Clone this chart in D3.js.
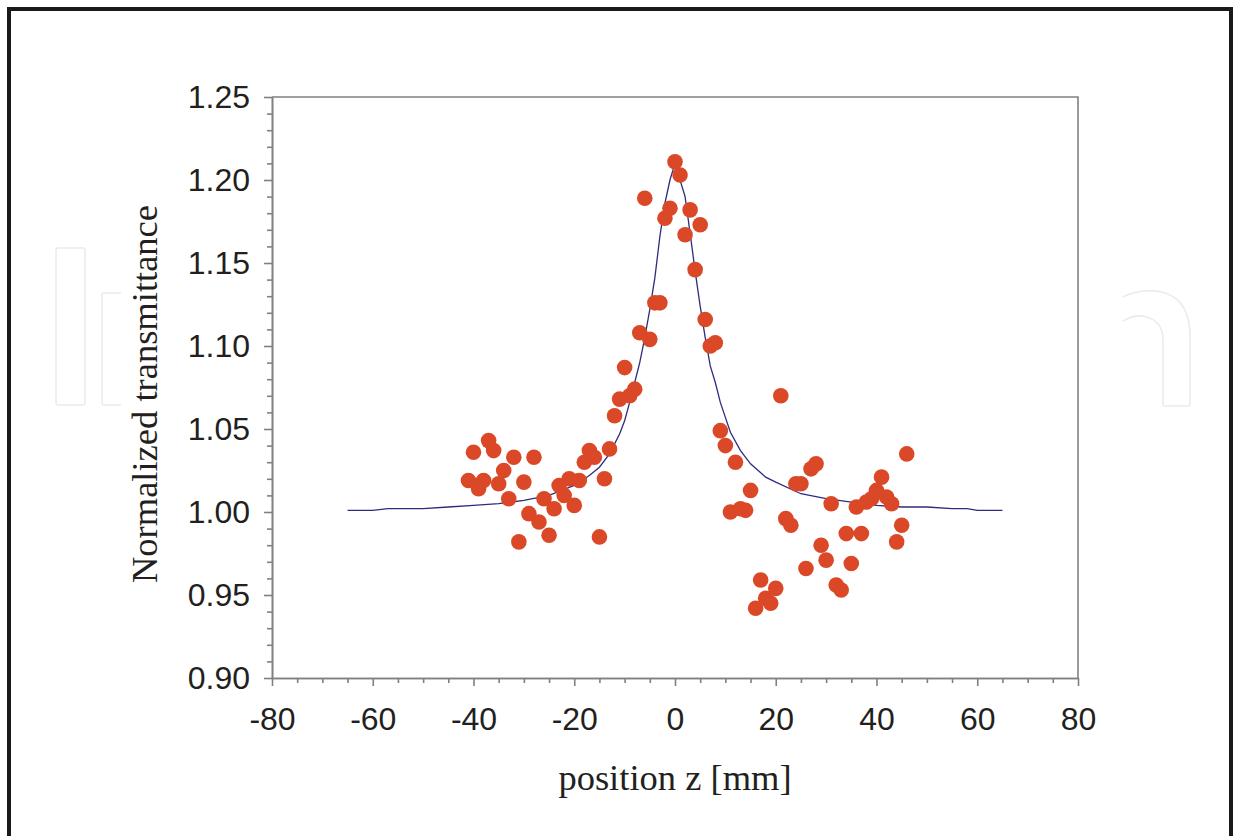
<!DOCTYPE html>
<html>
<head>
<meta charset="utf-8">
<script src="https://cdn.jsdelivr.net/npm/d3@7"></script>
<style>
    body { margin: 0; background: #fff; }
    .axis path, .axis line { stroke: #808080; stroke-width: 1.6; }
    .axis text { font-family: "Liberation Sans", Arial, sans-serif; font-size: 32px; fill: #231f20; }
    .title { font-family: "Liberation Serif", "Times New Roman", serif; font-size: 36.5px; fill: #231f20; }
</style>
</head>
<body>
<div id="chart"></div>
<script>
// measured points (z in mm, normalized transmittance)
var positionZ = [-41, -40, -39, -38, -37, -36, -35, -34, -33, -32, -31, -30, -29, -28, -27, -26, -25, -24, -23, -22,
    -21, -20, -19, -18, -17, -16, -15, -14, -13, -12, -11, -10, -9, -8, -7, -6, -5, -4, -3, -2, -1,
    0, 1, 2, 3, 4, 5, 6, 7, 8, 9, 10, 11, 12, 13, 14, 15, 16, 17, 18, 19, 20, 21, 22, 23, 24, 25,
    26, 27, 28, 29, 30, 31, 32, 33, 34, 35, 36, 37, 38, 39, 40, 41, 42, 43, 44, 45, 46];
var transmittance = [1.019, 1.036, 1.014, 1.019, 1.043, 1.037, 1.017, 1.025, 1.008, 1.033, 0.982, 1.018, 0.999, 1.033,
    0.994, 1.008, 0.986, 1.002, 1.016, 1.010, 1.020, 1.004, 1.019, 1.030, 1.037, 1.033, 0.985, 1.020, 1.038, 1.058,
    1.068, 1.087, 1.070, 1.074, 1.108, 1.189, 1.104, 1.126, 1.126, 1.177, 1.183,
    1.211, 1.203, 1.167, 1.182, 1.146, 1.173, 1.116, 1.100, 1.102, 1.049, 1.040, 1.000, 1.030, 1.002, 1.001,
    1.013, 0.942, 0.959, 0.948, 0.945, 0.954, 1.070, 0.996, 0.992, 1.017, 1.017, 0.966, 1.026, 1.029, 0.980,
    0.971, 1.005, 0.956, 0.953, 0.987, 0.969, 1.003, 0.987, 1.006, 1.008, 1.013, 1.021, 1.009, 1.005, 0.982,
    0.992, 1.035];

// fitted curve
var fitZ = [-65, -60, -57, -50, -45, -40, -35, -30, -25, -20, -17, -15, -13, -11, -10, -9, -8, -7, -6, -5, -4, -3, -2, -1,
    0, 1, 2, 3, 4, 5, 6, 7, 8, 9, 10, 11, 13, 15, 18, 20, 25, 30, 35, 40, 45, 50, 55, 58, 60, 65];
var fitT = [1.001, 1.001, 1.002, 1.002, 1.003, 1.004, 1.005, 1.007, 1.010, 1.016, 1.022, 1.027, 1.035, 1.047, 1.055,
    1.066, 1.078, 1.090, 1.105, 1.122, 1.141, 1.166, 1.186, 1.200,
    1.210, 1.200, 1.190, 1.168, 1.145, 1.124, 1.105, 1.088, 1.078, 1.066, 1.057, 1.048, 1.037, 1.029, 1.021,
    1.018, 1.011, 1.008, 1.006, 1.004, 1.003, 1.003, 1.002, 1.002, 1.001, 1.001];

var xMajor = [-80, -60, -40, -20, 0, 20, 40, 60, 80];
var yMajor = [0.90, 0.95, 1.00, 1.05, 1.10, 1.15, 1.20, 1.25];

var chart = (function () {

    var width = 1233, height = 836;
    var left = 272, right = 1078, top = 97, bottom = 678;

    var draw_watermark = function (svg) {
        var g = svg.append('g')
            .style('fill', 'none')
            .style('stroke', '#ebebeb')
            .style('stroke-width', 1.6);
        g.append('rect').attr('x', 56).attr('y', 248).attr('width', 29).attr('height', 157).attr('rx', 2);
        g.append('path').attr('d', 'M121,293 L104,293 Q102,293 102,295 L102,403 Q102,405 104,405 L121,405');
        g.append('path').attr('d', 'M1123,297 C1142,287 1190,282 1190,336 L1190,404 Q1190,406 1188,406 L1165,406 Q1163,406 1163,404 L1163,340 C1163,318 1142,310 1123,321');
    };

    return {
        create_plot: function (placement) {
            d3.select(placement).html('');
            var svg = d3.select(placement).append('svg')
                .attr('width', width)
                .attr('height', height);

            svg.append('rect')
                .attr('x', 9).attr('y', 9)
                .attr('width', 1222).attr('height', 900)
                .style('fill', 'none')
                .style('stroke', '#1a1a1a')
                .style('stroke-width', 4);

            draw_watermark(svg);

            var x = d3.scaleLinear().domain([-80, 80]).range([left, right]);
            var y = d3.scaleLinear().domain([0.90, 1.25]).range([bottom, top]);

            // box
            svg.append('path')
                .attr('d', 'M' + x(-80) + ',' + y(1.25) + 'H' + x(80) + 'V' + y(0.90))
                .style('fill', 'none')
                .style('stroke', '#808080')
                .style('stroke-width', 1.6);

            var xMinor = d3.range(-80, 81, 5).filter(function (d) { return d % 20 !== 0; });
            var yMinor = d3.range(90, 126, 1).filter(function (d) { return d % 5 !== 0; })
                .map(function (d) { return d / 100; });

            svg.append('g').attr('class', 'axis')
                .attr('transform', 'translate(0,' + bottom + ')')
                .call(d3.axisBottom(x).tickValues(xMinor).tickSize(5).tickSizeOuter(0).tickFormat(''));
            svg.append('g').attr('class', 'axis')
                .attr('transform', 'translate(' + left + ',0)')
                .call(d3.axisLeft(y).tickValues(yMinor).tickSize(5).tickSizeOuter(0).tickFormat(''));

            svg.append('g').attr('class', 'axis')
                .attr('transform', 'translate(0,' + bottom + ')')
                .call(d3.axisBottom(x).tickValues(xMajor).tickSize(8).tickSizeOuter(0).tickPadding(21)
                    .tickFormat(function (d) { return String(d); }));
            svg.append('g').attr('class', 'axis')
                .attr('transform', 'translate(' + left + ',0)')
                .call(d3.axisLeft(y).tickValues(yMajor).tickSize(8).tickSizeOuter(0).tickPadding(14)
                    .tickFormat(d3.format('.2f')));

            var fit = d3.zip(fitZ, fitT);
            svg.append('path')
                .attr('d', d3.line()
                    .x(function (d) { return x(d[0]); })
                    .y(function (d) { return y(d[1]); })(fit))
                .style('fill', 'none')
                .style('stroke', '#2e2c7e')
                .style('stroke-width', 1.3);

            var pts = d3.zip(positionZ, transmittance);
            svg.append('g').selectAll('circle').data(pts).enter().append('circle')
                .attr('cx', function (d) { return x(d[0]); })
                .attr('cy', function (d) { return y(d[1]); })
                .attr('r', 7.8)
                .style('fill', '#da4828');

            svg.append('text').attr('class', 'title')
                .attr('x', (left + right) / 2).attr('y', 790)
                .attr('text-anchor', 'middle')
                .text('position z [mm]');

            svg.append('text').attr('class', 'title')
                .attr('transform', 'translate(157,394) rotate(-90)')
                .attr('text-anchor', 'middle')
                .text('Normalized transmittance');
        }
    };

})();

chart.create_plot('#chart');
</script>
</body>
</html>
